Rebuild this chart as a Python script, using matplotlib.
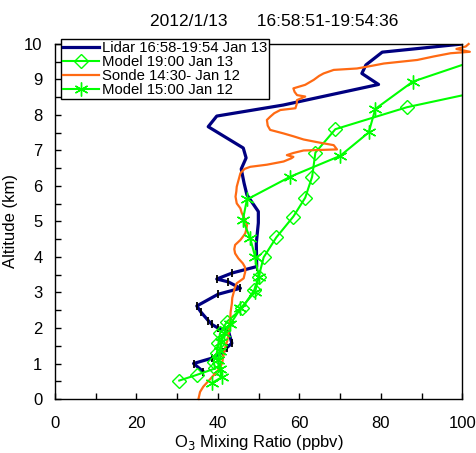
import matplotlib.pyplot as plt
import matplotlib.ticker as mticker

plt.rcParams['font.family'] = ['Liberation Sans', 'DejaVu Sans']

# Lidar 16:58-19:54 Jan 13
lidar_alt = [10.0, 9.77, 9.41, 9.17, 8.86, 8.28, 7.97, 7.67, 7.07, 6.79, 6.48, 6.08,
             5.75, 5.28, 4.96, 4.39, 3.73, 3.55, 3.38, 3.30, 3.12, 2.95, 2.62, 2.45,
             2.21, 2.10, 2.00, 1.94, 1.57, 1.45, 1.33, 1.15, 1.00, 0.77]
lidar_o3 = [100, 80.3, 76.3, 75.3, 79.4, 56.0, 39.7, 37.6, 46.2, 46.9, 45.7, 46.4,
            47.1, 49.9, 49.9, 49.4, 49.5, 43.5, 39.7, 42.5, 45.5, 40.0, 34.8, 35.8,
            37.6, 38.5, 40.0, 42.5, 43.4, 42.2, 41.3, 38.5, 34.0, 36.4]

# Model 19:00 Jan 13
m13_alt = [0.52, 0.68, 0.86, 1.05, 1.29, 1.57, 1.85, 2.18, 2.55, 3.07, 3.45, 3.99,
           4.55, 5.14, 5.67, 6.26, 6.94, 7.60, 8.22, 8.80]
m13_o3 = [30.5, 34.8, 39.3, 38.9, 39.7, 40.1, 40.5, 42.2, 45.9, 48.9, 50.0, 51.2,
          54.3, 58.5, 61.4, 63.1, 63.9, 68.8, 86.4, 110.0]

# Sonde 14:30 Jan 12
sonde_alt = [0.0, 0.2, 0.35, 0.55, 0.72, 0.85, 1.0, 1.2, 1.47, 1.65, 1.85, 2.05, 2.23,
             2.45, 2.69, 2.85, 2.98, 3.12, 3.26, 3.40, 3.50, 3.59, 3.72, 3.82, 3.96,
             4.10, 4.22, 4.34, 4.48, 4.60, 4.67, 4.80, 4.90, 5.00, 5.13, 5.25, 5.37,
             5.51, 5.70, 5.85, 5.98, 6.15, 6.36, 6.48, 6.54, 6.60, 6.69, 6.78, 6.82,
             6.87, 6.93, 7.00, 7.03, 7.15, 7.22, 7.31, 7.40, 7.48, 7.58, 7.70, 7.86,
             7.95, 8.05, 8.14, 8.19, 8.30, 8.42, 8.52, 8.56, 8.65, 8.75, 8.85, 8.99,
             9.10, 9.17, 9.27, 9.31, 9.38, 9.45, 9.55, 9.65, 9.74, 9.78, 9.86, 9.93,
             10.0]
sonde_o3 = [35.2, 35.6, 36.4, 38.0, 39.3, 40.3, 41.0, 41.3, 41.8, 42.3, 42.6, 42.7, 43.0,
            43.1, 43.4, 43.5, 43.8, 44.1, 44.6, 46.3, 46.5, 46.7, 46.6, 46.1, 45.0,
            44.2, 44.0, 44.2, 45.5, 46.3, 46.7, 47.0, 47.1, 46.8, 46.3, 45.8, 45.5,
            44.6, 44.3, 44.5, 44.6, 45.0, 45.5, 46.5, 47.9, 52.0, 56.1, 58.0, 58.5,
            56.9, 58.5, 61.0, 69.2, 68.4, 65.0, 61.0, 58.5, 56.1, 52.8, 52.2, 52.0,
            52.8, 53.8, 55.3, 59.0, 59.3, 59.4, 61.4, 59.4, 58.8, 58.5, 61.4, 63.5,
            64.8, 65.9, 68.4, 74.1, 77.5, 80.7, 88.9, 93.0, 97.1, 101.8, 98.5, 100.8,
            101.5]

# Model 15:00 Jan 12
m12_alt = [0.45, 0.62, 0.85, 1.10, 1.35, 1.60, 1.85, 2.10, 2.55, 3.02, 3.45, 4.01,
           4.53, 5.04, 5.62, 6.26, 6.85, 7.51, 8.17, 8.94, 9.80]
m12_o3 = [38.5, 41.0, 40.5, 40.0, 40.4, 40.8, 41.5, 43.0, 45.5, 49.1, 50.0, 49.1,
          47.9, 46.1, 47.1, 57.7, 70.0, 77.0, 78.6, 87.8, 110.0]

fig = plt.figure(figsize=(4.77, 4.53), dpi=100)
ax = fig.add_axes([0.1153, 0.1192, 0.8543, 0.7837])

green = '#00ff00'
ax.plot(lidar_o3, lidar_alt, color='#000080', lw=2.3, label='Lidar 16:58-19:54 Jan 13')
ax.plot(lidar_o3[16:], lidar_alt[16:], ls='none', marker='|', color='black',
        ms=6, mew=1.3)
ax.plot(m13_o3, m13_alt, color=green, lw=1.5, marker='D', ms=6.8, mfc='none',
        mec=green, mew=1.0, label='Model 19:00 Jan 13')
ax.plot(sonde_o3, sonde_alt, color='#ff6a13', lw=1.6, clip_on=False,
        label='Sonde 14:30- Jan 12')
ax.plot(m12_o3, m12_alt, color=green, lw=1.5, marker=(6, 2, 0), ms=10,
        mec=green, mew=1.0, label='Model 15:00 Jan 12')

ax.set_xlim(0, 100)
ax.set_ylim(0, 10)
ax.xaxis.set_major_locator(mticker.MultipleLocator(20))
ax.xaxis.set_minor_locator(mticker.MultipleLocator(10))
ax.yaxis.set_major_locator(mticker.MultipleLocator(1))
ax.yaxis.set_minor_locator(mticker.MultipleLocator(0.5))
ax.tick_params(which='both', direction='in', length=4, width=1,
               top=False, right=False, labelsize=12)
ax.tick_params(axis='x', which='major', pad=12)
ax.tick_params(axis='y', which='major', pad=9)
for s in ax.spines.values():
    s.set_linewidth(1.0)

ax.set_xlabel('O$_3$ Mixing Ratio (ppbv)', fontsize=12, labelpad=2)
ax.set_ylabel('Altitude (km)', fontsize=12, labelpad=4)
fig.text(0.575, 0.952, '2012/1/13      16:58:51-19:54:36', ha='center', va='center',
         fontsize=12.5)

leg = ax.legend(loc='upper left', bbox_to_anchor=(61 / 477, 1 - 39 / 453),
                bbox_transform=fig.transFigure, fontsize=10.7, frameon=True,
                fancybox=False, edgecolor='black', framealpha=1,
                handlelength=2.4, handletextpad=0.2, labelspacing=0.0,
                borderpad=0.15, borderaxespad=0)
leg.get_frame().set_linewidth(1.0)

fig.savefig('out.png', dpi=100)
